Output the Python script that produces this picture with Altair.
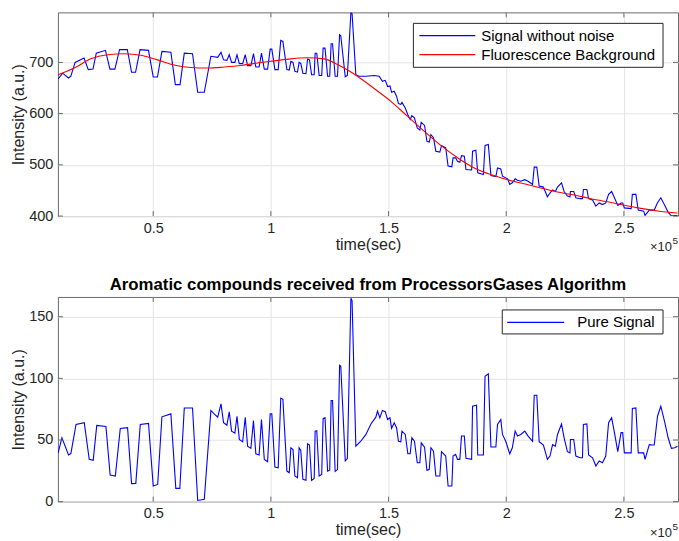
import altair as alt
import pandas as pd

# ---------------- data (time in units of 1e5 s) ----------------
top_time = [0.096, 0.115, 0.140, 0.150, 0.168, 0.206, 0.224, 0.244, 0.258, 0.297, 0.316, 0.337,
            0.357, 0.390, 0.408, 0.425, 0.444, 0.480, 0.500, 0.518, 0.537, 0.575, 0.594, 0.614,
            0.632, 0.667, 0.689, 0.717, 0.745, 0.774, 0.788, 0.799, 0.813, 0.823, 0.833, 0.847,
            0.856, 0.866, 0.880, 0.891, 0.901, 0.915, 0.926, 0.936, 0.950, 0.960, 0.972, 0.986,
            0.997, 1.004, 1.017, 1.031, 1.042, 1.051, 1.068, 1.078, 1.085, 1.094, 1.102, 1.113,
            1.120, 1.127, 1.136, 1.149, 1.156, 1.164, 1.173, 1.184, 1.188, 1.195, 1.205, 1.216,
            1.222, 1.230, 1.241, 1.250, 1.256, 1.262, 1.273, 1.283, 1.292, 1.297, 1.316, 1.325,
            1.340, 1.345, 1.361, 1.375, 1.404, 1.439, 1.460, 1.474, 1.486, 1.496, 1.506, 1.513,
            1.524, 1.534, 1.542, 1.552, 1.557, 1.571, 1.582, 1.592, 1.599, 1.610, 1.622, 1.633,
            1.639, 1.653, 1.663, 1.673, 1.680, 1.691, 1.701, 1.718, 1.725, 1.743, 1.753, 1.769,
            1.774, 1.785, 1.793, 1.803, 1.810, 1.822, 1.829, 1.853, 1.857, 1.871, 1.879, 1.903,
            1.910, 1.924, 1.935, 1.956, 1.963, 1.977, 1.984, 2.006, 2.015, 2.026, 2.038, 2.048,
            2.062, 2.079, 2.093, 2.112, 2.119, 2.130, 2.140, 2.158, 2.175, 2.186, 2.197, 2.209,
            2.218, 2.235, 2.246, 2.260, 2.271, 2.273, 2.287, 2.296, 2.314, 2.324, 2.328, 2.343,
            2.350, 2.367, 2.381, 2.395, 2.409, 2.423, 2.435, 2.448, 2.460, 2.474, 2.488, 2.495,
            2.502, 2.531, 2.536, 2.551, 2.561, 2.584, 2.590, 2.608, 2.620, 2.629, 2.643, 2.657,
            2.674, 2.688, 2.702, 2.716, 2.728]
top_signal = [667.6, 679, 669.6, 673, 700, 708.6, 686, 687, 718, 723.6, 687, 687,
              725, 725, 680.7, 680.7, 725, 723.6, 671.5, 671.5, 721.6, 720, 656.7, 656.7,
              718, 717, 641.7, 641.7, 712, 710, 719.7, 705, 704, 715, 700, 700,
              715, 697.6, 697.6, 715, 693.7, 693.7, 717, 691, 691, 718, 687, 687,
              726, 726, 686, 686, 743, 741, 686, 685, 702, 700, 682.6, 681,
              700, 698, 679, 678, 706.6, 705, 676, 676, 718, 718, 674.6, 674.6,
              728, 728, 673, 673, 736.6, 736.6, 673, 673, 754, 752, 672, 674.6,
              797.7, 795, 676, 673, 673, 674.6, 673, 663, 665, 653, 654, 641.7,
              643.6, 634, 619.7, 618, 622, 611, 598, 588.5, 596, 592, 572, 568,
              583, 577, 546, 544.6, 559, 553, 526.7, 525, 537.8, 533, 497.5, 496,
              513.7, 513.7, 507, 505, 518, 517, 491, 490, 526.7, 528.6, 484.4, 481,
              537.8, 539.7, 479, 477, 494, 492, 478, 472.7, 461.8, 465, 472.7, 470,
              468, 471, 468, 461.8, 495.5, 495.5, 458.5, 456.6, 437.6, 445, 451, 448,
              456.6, 465, 448, 439, 437.6, 448, 448, 435.7, 434, 434, 452, 452,
              434, 431.5, 419.5, 425.6, 422.5, 425.6, 442.3, 448, 435.7, 420.7, 425.6, 425.6,
              416, 414.5, 442.3, 442.3, 411.7, 409.7, 401.4, 411.7, 411.7, 411.7, 426, 435.7,
              420.7, 407.8, 400, 401, 401]

bg_time = [0.096, 0.164, 0.235, 0.306, 0.377, 0.448, 0.518, 0.589, 0.660, 0.731, 0.802, 0.873,
           0.943, 1.014, 1.085, 1.156, 1.227, 1.283, 1.311, 1.368, 1.439, 1.510, 1.580, 1.651,
           1.722, 1.793, 1.864, 1.935, 2.005, 2.076, 2.147, 2.218, 2.289, 2.360, 2.431, 2.501,
           2.572, 2.643, 2.728]
bg_value = [676, 689, 707, 715, 717, 714, 705, 695, 690, 689, 691, 694,
            699, 703, 707, 709, 707, 696, 689, 673, 649, 624, 595, 566,
            538, 514, 494, 481, 471, 463, 455, 447, 441, 434, 428, 421,
            415, 410, 406]

pure_time = [0.096, 0.112, 0.140, 0.150, 0.172, 0.207, 0.228, 0.245, 0.260, 0.299, 0.317, 0.339,
             0.360, 0.391, 0.408, 0.426, 0.445, 0.480, 0.500, 0.519, 0.537, 0.575, 0.596, 0.613,
             0.632, 0.667, 0.689, 0.717, 0.745, 0.759, 0.774, 0.788, 0.799, 0.813, 0.823, 0.833,
             0.847, 0.856, 0.866, 0.880, 0.891, 0.901, 0.915, 0.926, 0.936, 0.950, 0.960, 0.972,
             0.986, 0.997, 1.004, 1.017, 1.031, 1.042, 1.051, 1.068, 1.078, 1.085, 1.094, 1.102,
             1.113, 1.120, 1.127, 1.136, 1.149, 1.156, 1.164, 1.173, 1.184, 1.188, 1.195, 1.205,
             1.216, 1.222, 1.230, 1.241, 1.250, 1.256, 1.262, 1.273, 1.283, 1.292, 1.297, 1.316,
             1.325, 1.340, 1.345, 1.361, 1.382, 1.404, 1.425, 1.446, 1.453, 1.463, 1.474, 1.486,
             1.496, 1.506, 1.513, 1.524, 1.534, 1.542, 1.552, 1.557, 1.571, 1.582, 1.592, 1.599,
             1.610, 1.622, 1.633, 1.639, 1.653, 1.663, 1.673, 1.680, 1.691, 1.701, 1.718, 1.725,
             1.743, 1.753, 1.769, 1.774, 1.785, 1.793, 1.803, 1.810, 1.822, 1.829, 1.853, 1.857,
             1.874, 1.879, 1.903, 1.910, 1.924, 1.935, 1.956, 1.963, 1.977, 1.984, 1.998, 2.015,
             2.026, 2.038, 2.048, 2.062, 2.079, 2.093, 2.112, 2.119, 2.130, 2.140, 2.158, 2.175,
             2.186, 2.197, 2.209, 2.218, 2.235, 2.246, 2.260, 2.271, 2.273, 2.287, 2.296, 2.314,
             2.324, 2.328, 2.343, 2.350, 2.367, 2.381, 2.395, 2.409, 2.423, 2.435, 2.448, 2.460,
             2.474, 2.488, 2.495, 2.502, 2.531, 2.536, 2.551, 2.561, 2.584, 2.590, 2.608, 2.620,
             2.629, 2.643, 2.657, 2.674, 2.688, 2.702, 2.716, 2.728]
pure_value = [39.6, 51.8, 37.8, 39, 62.6, 64, 34.3, 33.5, 61.8, 61, 21.6, 20.8,
              59.4, 60, 14.6, 14.8, 62.6, 63.4, 12.7, 14, 68.8, 71.2, 10.8, 10.8,
              76, 76, 1, 2, 74, 71.2, 68.5, 79.3, 64, 62, 72.8, 57.2,
              55.6, 69.3, 50.5, 48.5, 68.5, 45, 43.2, 65.8, 38.8, 37.8, 66.6, 34.3,
              32.4, 71.2, 71.2, 28, 27.5, 84, 83, 24.8, 23.5, 43.7, 42.3, 20.8,
              19.4, 43.7, 41.6, 18.1, 17.3, 47, 45.9, 17.3, 18.9, 57.2, 57.5, 20.8,
              22.1, 67.5, 68, 24.8, 25.5, 82, 82, 24.5, 26, 110.6, 110, 33,
              35, 165, 163, 45, 49, 54.5, 63, 68.5, 73.4, 68, 74, 73,
              66.6, 68, 59.4, 64, 60, 49, 48.6, 57.2, 54.5, 38.8, 38.8, 51.8,
              49, 31.6, 31.6, 47.7, 44.2, 25.4, 26, 43.7, 41, 20.8, 20.8, 40.5,
              37, 12.7, 12.7, 37, 38.3, 34.3, 34.3, 53.2, 53.2, 35.1, 34.3, 77.4,
              78.2, 37.8, 37.8, 101.7, 103.6, 44.3, 44.3, 62.6, 66.6, 54.5, 49, 38.8,
              43.7, 57.2, 53.2, 54.5, 57.2, 53.2, 49, 86.3, 86.3, 48.6, 45.9, 34.3,
              37, 46.2, 45, 54.5, 63, 51.8, 40.5, 39.6, 50.4, 50.4, 37, 35.6,
              35.6, 62.6, 63, 37.8, 35.6, 28.9, 33, 31.6, 37, 64, 68, 56,
              40.5, 56, 56, 39.6, 39.6, 75.5, 76, 39.6, 39.6, 34.3, 46.2, 45.9,
              45.9, 69.3, 77.4, 64, 51.8, 43.2, 43.7, 45]

x_ticks = [0.5, 1, 1.5, 2, 2.5]
top_y_ticks = [400, 500, 600, 700]
bottom_y_ticks = [0, 50, 100, 150]
top_labels = ["Signal without noise", "Fluorescence Background"]
bottom_labels = ["Pure Signal"]
title_text = "Aromatic compounds received from ProcessorsGases Algorithm"

# ---------------- style ----------------
W, H1, H2 = 621, 204, 205
FONT = "Liberation Sans"
AX = "#6a6a6a"
TXT = "#262626"
BLUE = "#0000ff"
RED = "#ff0000"

xscale = alt.Scale(domain=[0.095, 2.73], nice=False, zero=False)
one = pd.DataFrame({"k": [0]})


def x_enc(field="t"):
    return alt.X(f"{field}:Q", scale=xscale,
                 axis=alt.Axis(values=x_ticks, format="~g", title="time(sec)", labelPadding=5,
                               titleY=28, titleBaseline="middle"))


def y_enc(H, yscale, yticks):
    return alt.Y("v:Q", scale=yscale,
                 axis=alt.Axis(values=yticks, title="Intensity (a.u.)", labelPadding=5,
                               titleX=-39, titleY=H / 2, titleBaseline="middle"))


def frame_ticks(H, yscale, yticks):
    xt = pd.DataFrame({"t": x_ticks})
    yt = pd.DataFrame({"v": yticks})
    return [
        alt.Chart(xt).mark_rule(color=AX).encode(x=x_enc(), y=alt.value(H - 5), y2=alt.value(H)),
        alt.Chart(xt).mark_rule(color=AX).encode(x=x_enc(), y=alt.value(0), y2=alt.value(5)),
        alt.Chart(yt).mark_rule(color=AX).encode(y=y_enc(H, yscale, yticks), x=alt.value(0), x2=alt.value(5)),
        alt.Chart(yt).mark_rule(color=AX).encode(y=y_enc(H, yscale, yticks), x=alt.value(W - 5), x2=alt.value(W)),
    ]


def exponent(H):
    return [
        alt.Chart(one).mark_text(text="×10", align="right", baseline="middle", fontSize=13,
                                 font=FONT, color=TXT).encode(x=alt.value(W - 6), y=alt.value(H + 31)),
        alt.Chart(one).mark_text(text="5", align="left", baseline="middle", fontSize=10,
                                 font=FONT, color=TXT).encode(x=alt.value(W - 5.5), y=alt.value(H + 25)),
    ]


def legend(x0, x1, y0, y1, rows, line_x0, line_x1, text_x):
    layers = [alt.Chart(one).mark_rect(fill="white", stroke=TXT, strokeWidth=1).encode(
        x=alt.value(x0), x2=alt.value(x1), y=alt.value(y0), y2=alt.value(y1))]
    for label, color, yy in rows:
        layers.append(alt.Chart(one).mark_rule(color=color, strokeWidth=1.1).encode(
            x=alt.value(line_x0), x2=alt.value(line_x1), y=alt.value(yy)))
        layers.append(alt.Chart(one).mark_text(text=label, align="left", baseline="middle",
                                               fontSize=15, font=FONT, color="#000000").encode(
            x=alt.value(text_x), y=alt.value(yy)))
    return layers


# ---------------- top panel ----------------
ytop = alt.Scale(domain=[400, 797.7], nice=False, zero=False)
top_df = pd.DataFrame({"t": top_time, "v": top_signal})
bg_df = pd.DataFrame({"t": bg_time, "v": bg_value})

top_sig = alt.Chart(top_df).mark_line(color=BLUE, strokeWidth=1.1, clip=True).encode(
    x=x_enc(), y=y_enc(H1, ytop, top_y_ticks))
top_bg = alt.Chart(bg_df).mark_line(color=RED, strokeWidth=1.1, interpolate="monotone", clip=True).encode(
    x=x_enc(), y=y_enc(H1, ytop, top_y_ticks))
top = alt.layer(
    top_sig, top_bg,
    *frame_ticks(H1, ytop, top_y_ticks),
    *legend(356, 606, 11, 55, [(top_labels[0], BLUE, 23.3), (top_labels[1], RED, 42.3)], 362, 418, 424),
    *exponent(H1),
).properties(width=W, height=H1)

# ---------------- bottom panel ----------------
ybot = alt.Scale(domain=[0, 166], nice=False, zero=False)
pure_df = pd.DataFrame({"t": pure_time, "v": pure_value})

bot_sig = alt.Chart(pure_df).mark_line(color=BLUE, strokeWidth=1.1, clip=True).encode(
    x=x_enc(), y=y_enc(H2, ybot, bottom_y_ticks))
bottom = alt.layer(
    bot_sig,
    *frame_ticks(H2, ybot, bottom_y_ticks),
    *legend(445, 606, 13, 37, [(bottom_labels[0], BLUE, 25.5)], 450, 507, 520),
    *exponent(H2),
).properties(
    width=W, height=H2,
    title=alt.TitleParams(title_text, fontSize=16.8, fontWeight="bold", font=FONT, color="#000000",
                          offset=3, anchor="middle", frame="group"),
)

chart = alt.vconcat(top, bottom, spacing=81, bounds="flush").properties(
    padding={"left": 10, "top": 11, "right": 0, "bottom": 0}
).configure_view(
    stroke=AX, strokeWidth=1
).configure_axis(
    grid=True, gridColor="#e4e4e4", gridWidth=1, domain=False, ticks=False,
    labelFont=FONT, labelFontSize=14.5, labelColor=TXT,
    titleFont=FONT, titleFontSize=16, titleFontWeight="normal", titleColor=TXT,
)

chart.save("out.html", embed_options={"renderer": "svg", "actions": False})
